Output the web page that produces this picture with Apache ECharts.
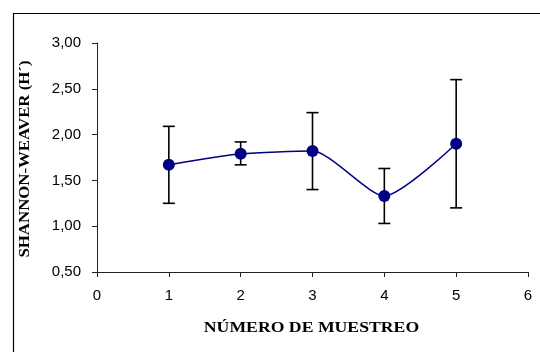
<!DOCTYPE html>
<html>
<head>
<meta charset="utf-8">
<script src="https://cdn.jsdelivr.net/npm/echarts@6/dist/echarts.min.js"></script>
<style>
html,body{margin:0;padding:0;background:#fff;}
#chart{width:540px;height:352px;}
</style>
</head>
<body>
<div id="chart"></div>
<script>
const samples = [1, 2, 3, 4, 5];
const meanH = [1.67, 1.79, 1.82, 1.33, 1.90];
const errUp = [0.42, 0.13, 0.42, 0.30, 0.70];
const errDown = [0.42, 0.12, 0.42, 0.30, 0.70];
const yTickLabels = ['0,50', '1,00', '1,50', '2,00', '2,50', '3,00'];
const xTitle = 'NÚMERO DE MUESTREO';
const yTitle = 'SHANNON-WEAVER (H´)';

const lineData = samples.map((x, i) => [x, meanH[i]]);
const errData = samples.map((x, i) => [x, meanH[i] - errDown[i], meanH[i] + errUp[i]]);

const titleFont = 'bold 15px "Liberation Serif"';

const chart = echarts.init(document.getElementById('chart'), null, {renderer: 'canvas'});
chart.setOption({
  animation: false,
  backgroundColor: '#fff',
  graphic: [
    {
      type: 'rect', left: 11, top: 11, silent: true,
      shape: {width: 700, height: 500},
      style: {fill: 'none', stroke: '#000', lineWidth: 1.2}
    },
    {
      type: 'text', x: 311.5, y: 328, scaleX: 1.18, silent: true,
      style: {text: xTitle, font: titleFont, fill: '#000', align: 'center', verticalAlign: 'middle'}
    },
    {
      type: 'text', x: 25.5, y: 159, rotation: Math.PI / 2, scaleX: 1.12, silent: true,
      style: {text: yTitle, font: titleFont, fill: '#000', align: 'center', verticalAlign: 'middle'}
    }
  ],
  grid: {left: 97, right: 12, top: 43, bottom: 80, containLabel: false},
  xAxis: {
    type: 'value', min: 0, max: 6, interval: 1,
    axisLine: {onZero: false, lineStyle: {color: '#222', width: 1}},
    axisTick: {show: true, inside: false, length: 5, lineStyle: {color: '#222'}},
    axisLabel: {margin: 16, fontFamily: 'Liberation Sans', fontSize: 15, color: '#000'},
    splitLine: {show: false}
  },
  yAxis: {
    type: 'value', min: 0.5, max: 3, interval: 0.5,
    axisLine: {show: true, lineStyle: {color: '#222', width: 1}},
    axisTick: {show: true, inside: false, length: 5, lineStyle: {color: '#222'}},
    axisLabel: {
      margin: 16, fontFamily: 'Liberation Sans', fontSize: 15, color: '#000',
      formatter: (v) => yTickLabels[Math.round((v - 0.5) / 0.5)]
    },
    splitLine: {show: false}
  },
  series: [
    {
      type: 'custom',
      data: errData,
      z: 1,
      renderItem: function (params, api) {
        const x = api.value(0);
        const lo = api.coord([x, api.value(1)]);
        const hi = api.coord([x, api.value(2)]);
        const hw = 6;
        const st = {stroke: '#000', lineWidth: 1.6};
        return {
          type: 'group',
          children: [
            {type: 'line', shape: {x1: lo[0], y1: lo[1], x2: hi[0], y2: hi[1]}, style: st},
            {type: 'line', shape: {x1: hi[0] - hw, y1: hi[1], x2: hi[0] + hw, y2: hi[1]}, style: st},
            {type: 'line', shape: {x1: lo[0] - hw, y1: lo[1], x2: lo[0] + hw, y2: lo[1]}, style: st}
          ]
        };
      }
    },
    {
      type: 'line',
      data: lineData,
      smooth: 0.22,
      z: 2,
      symbol: 'circle',
      symbolSize: 12,
      lineStyle: {color: '#000080', width: 1.5},
      itemStyle: {color: '#000080'}
    }
  ]
});
</script>
</body>
</html>
